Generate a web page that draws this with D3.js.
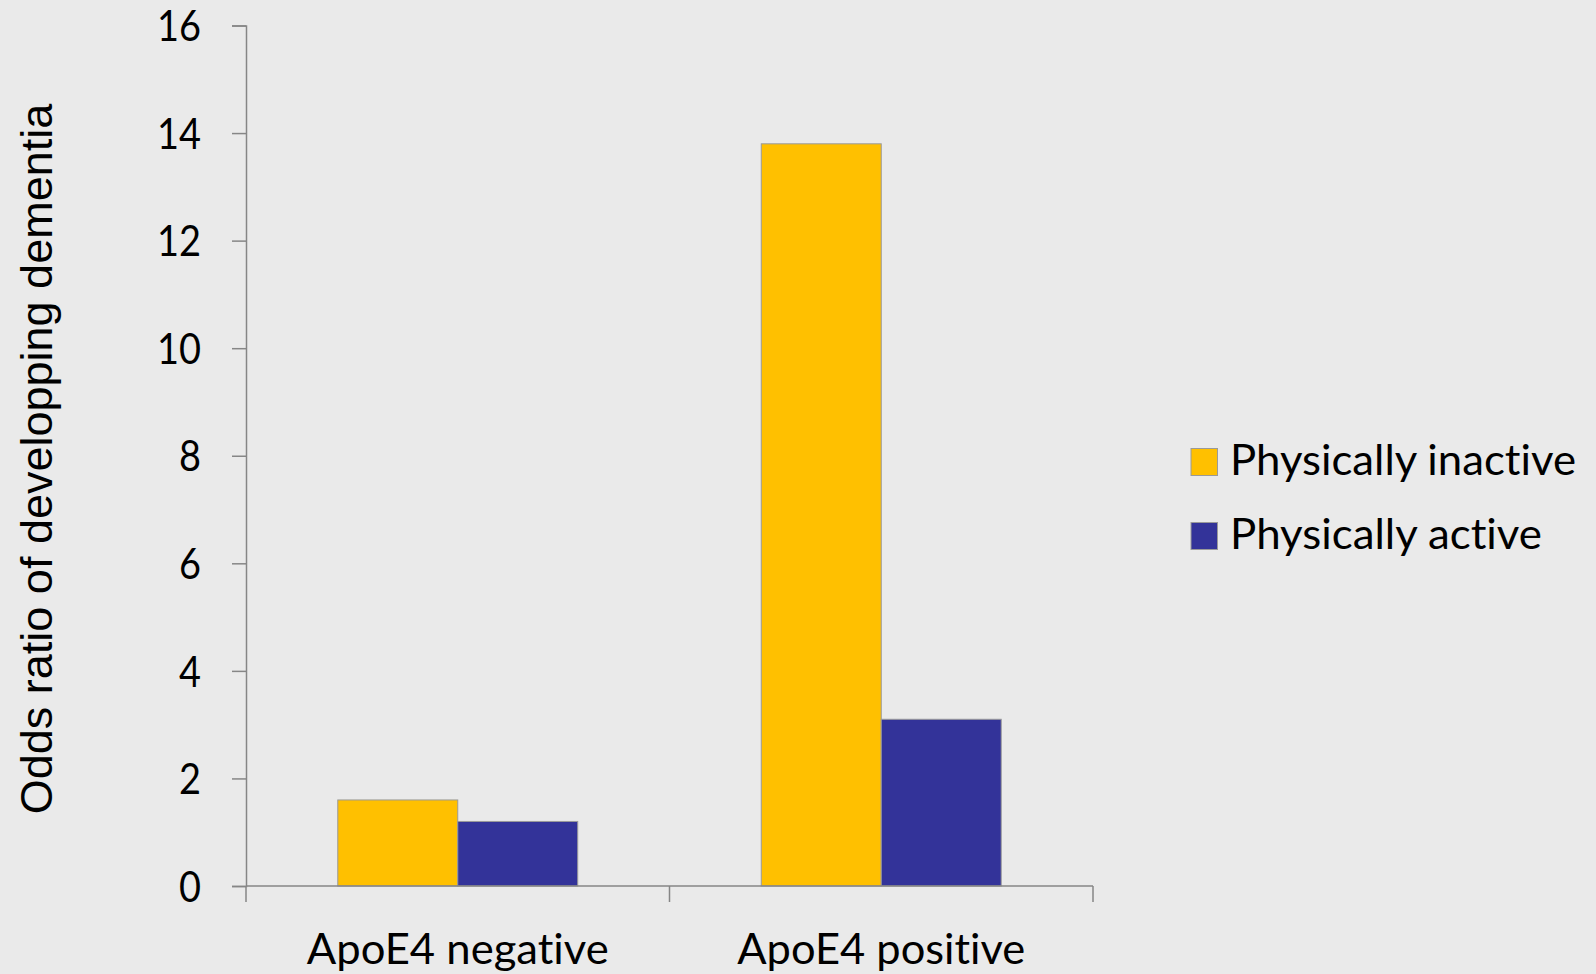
<!DOCTYPE html>
<html>
<head>
<meta charset="utf-8">
<script src="https://cdn.jsdelivr.net/npm/d3@7"></script>
<style>
  html, body { margin: 0; padding: 0; background: #EAEAEA; }
  svg { display: block; }
  text { font-variant-ligatures: none; font-feature-settings: "liga" 0, "clig" 0; }
</style>
</head>
<body>
<script>
const categories = ["ApoE4 negative", "ApoE4 positive"];
const seriesNames = ["Physically inactive", "Physically active"];
const inactiveValues = [1.6, 13.8];
const activeValues = [1.2, 3.1];
const yTicks = [0, 2, 4, 6, 8, 10, 12, 14, 16];
const colors = ["#FFC000", "#333399"];

const W = 1596, H = 974;
const svg = d3.select("body").append("svg").attr("width", W).attr("height", H);
svg.append("rect").attr("width", W).attr("height", H).attr("fill", "#EAEAEA");

const y = d3.scaleLinear().domain([0, 16]).range([886, 25.5]);
const x0 = d3.scaleBand().domain(categories).range([246, 1093]).paddingInner(0).paddingOuter(0);
const x1 = d3.scaleBand().domain(seriesNames).range([0, x0.bandwidth()]).paddingInner(0).paddingOuter(0.765);

const data = categories.map((c, i) => ({
  cat: c,
  vals: [
    { s: seriesNames[0], v: inactiveValues[i], color: colors[0] },
    { s: seriesNames[1], v: activeValues[i], color: colors[1] }
  ]
}));

const axisColor = "#868686";
const fontCal = "Lato, 'Open Sans', sans-serif";

// Bars
const g = svg.append("g");
data.forEach(d => {
  g.selectAll(null).data(d.vals).enter().append("rect")
    .attr("x", e => x0(d.cat) + x1(e.s))
    .attr("y", e => y(e.v))
    .attr("width", x1.bandwidth())
    .attr("height", e => y(0) - y(e.v))
    .attr("fill", e => e.color)
    .attr("stroke", "#9a9a9a")
    .attr("stroke-width", 1);
});

// Y axis
const yAxis = d3.axisLeft(y).tickValues(yTicks).tickSize(14).tickPadding(31).tickFormat(d3.format("d"));
const yg = svg.append("g").attr("transform", "translate(246,0)").call(yAxis);
yg.select(".domain").attr("stroke", axisColor).attr("stroke-width", 1.5);
yg.selectAll(".tick line").attr("stroke", axisColor).attr("stroke-width", 1.5);
yg.selectAll(".tick text").attr("font-family", fontCal).attr("font-size", 42).attr("fill", "#000").attr("dy", "0.36em")
  .attr("textLength", d => d >= 10 ? 44 : 22).attr("lengthAdjust", "spacingAndGlyphs");

// X axis line + boundary ticks
const boundaries = [x0.range()[0]].concat(categories.map(c => x0(c) + x0.bandwidth()));
svg.append("line").attr("x1", 246).attr("x2", 1093).attr("y1", y(0)).attr("y2", y(0))
  .attr("stroke", axisColor).attr("stroke-width", 1.5);
svg.selectAll(null).data(boundaries).enter().append("line")
  .attr("x1", d => d).attr("x2", d => d).attr("y1", y(0)).attr("y2", y(0) + 16)
  .attr("stroke", axisColor).attr("stroke-width", 1.5);

// Category labels
const catWidths = [302, 288];
svg.selectAll(null).data(categories).enter().append("text")
  .attr("x", (d) => x0(d) + x0.bandwidth() / 2)
  .attr("y", 963.5)
  .attr("text-anchor", "middle")
  .attr("font-family", fontCal).attr("font-size", 42).attr("fill", "#000")
  .attr("textLength", (d, i) => catWidths[i]).attr("lengthAdjust", "spacingAndGlyphs")
  .text(d => d);

// Y axis title
svg.append("text")
  .attr("transform", "translate(52,459) rotate(-90)")
  .attr("text-anchor", "middle")
  .attr("font-family", "'Liberation Sans', Arial, sans-serif")
  .attr("font-size", 45).attr("fill", "#000")
  .text("Odds ratio of developping dementia");

// Legend
const legend = svg.append("g");
const legY = d3.scaleBand().domain(seriesNames).range([437, 585]);
const legWidths = [346, 312];
seriesNames.forEach((s, i) => {
  const yy = legY(s);
  legend.append("rect").attr("x", 1191).attr("y", yy + 11.5).attr("width", 26.5).attr("height", 27)
    .attr("fill", colors[i]).attr("stroke", "#9a9a9a").attr("stroke-width", 1);
  legend.append("text").attr("x", 1230).attr("y", yy + 37.5)
    .attr("font-family", fontCal).attr("font-size", 42).attr("fill", "#000")
    .attr("textLength", legWidths[i]).attr("lengthAdjust", "spacingAndGlyphs")
    .text(s);
});
</script>
</body>
</html>
